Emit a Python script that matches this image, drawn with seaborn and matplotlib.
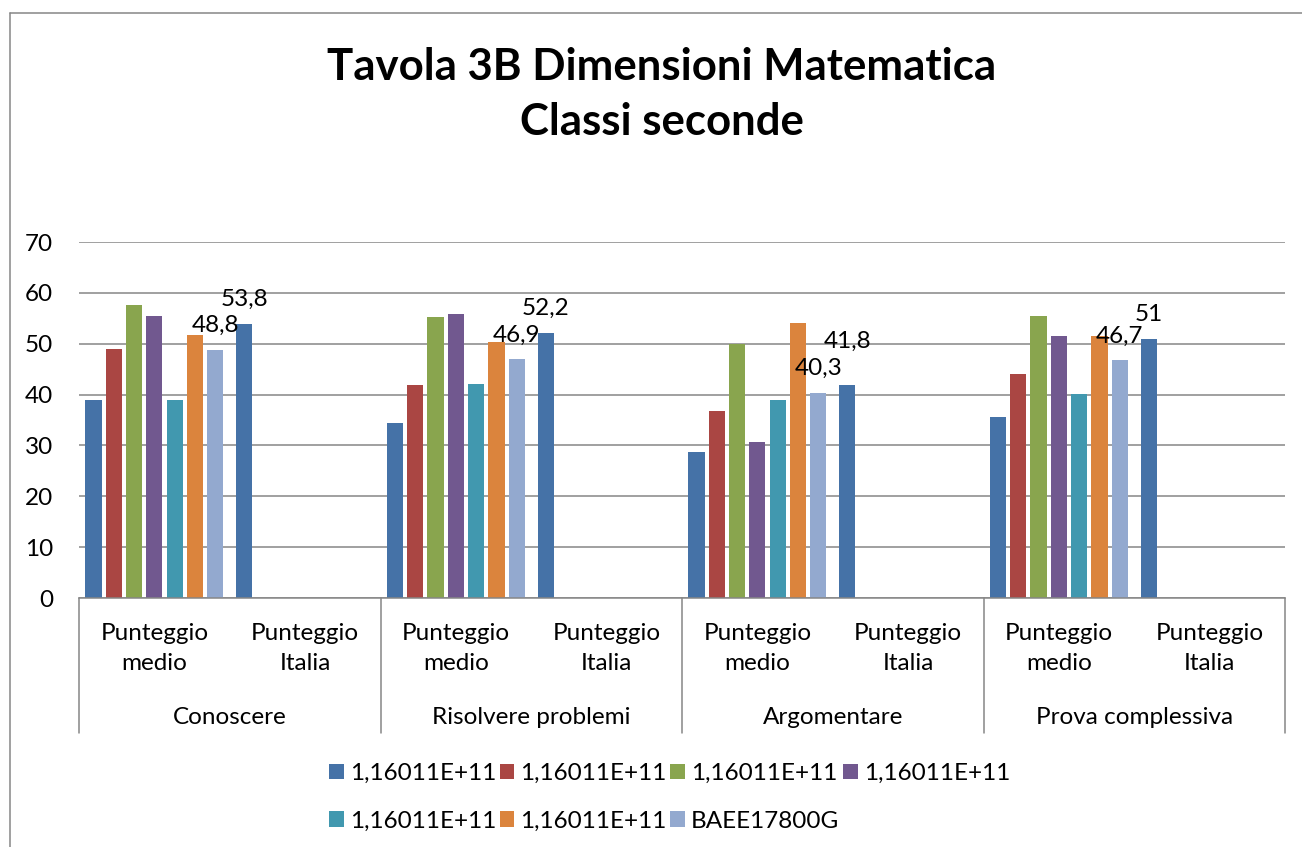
import numpy as np
import pandas as pd
import matplotlib.pyplot as plt
import seaborn as sns
from matplotlib.lines import Line2D
from matplotlib.patches import Patch
from matplotlib.colors import to_rgb

# Data
groups = ["Conoscere", "Risolvere problemi", "Argomentare", "Prova complessiva"]
sub_labels = ["Punteggio\nmedio", "Punteggio\nItalia"]
series_labels = ["1,16011E+11"] * 6 + ["BAEE17800G"]
s1 = [39.0, 34.5, 28.8, 35.5]
s2 = [48.9, 41.8, 36.8, 44.1]
s3 = [57.6, 55.3, 49.9, 55.5]
s4 = [55.4, 55.8, 30.7, 51.5]
s5 = [38.9, 42.0, 38.9, 40.1]
s6 = [51.8, 50.3, 54.0, 51.5]
s7 = [48.8, 46.9, 40.3, 46.7]
italia = [53.8, 52.2, 41.8, 51.0]

colors = ["#4572A7", "#AA4643", "#89A54E", "#71588F", "#4198AF", "#DB843D", "#93A9CF"]
grid_col = "#868686"

# long table: the Italia value sits on the first series in the "Italia" sub category
schools = [s1, s2, s3, s4, s5, s6, s7]
keys = [f"s{k}" for k in range(len(schools))]
rows = []
cat_order = []
for i, g in enumerate(groups):
    cat_order += [f"{g} medio", f"{g} Italia"]
    for k, vals in enumerate(schools):
        rows.append((f"{g} medio", keys[k], vals[i]))
    rows.append((f"{g} Italia", keys[0], italia[i]))
df = pd.DataFrame(rows, columns=["cat", "series", "value"])

sns.set_style("white")
plt.rcParams['font.family'] = ['Lato', 'DejaVu Sans']
plt.rcParams['text.color'] = 'black'
plt.rcParams['xtick.color'] = 'black'
plt.rcParams['ytick.color'] = 'black'
fs = 17.5

fig = plt.figure(figsize=(13.02, 8.47), dpi=100)
ax = fig.add_axes([79 / 1302, 1 - 598 / 847, 1206 / 1302, 356 / 847])

sns.barplot(data=df, x="cat", y="value", hue="series", order=cat_order,
            hue_order=keys, palette=colors, width=0.942, gap=0.2,
            saturation=1, errorbar=None, linewidth=0, legend=False, ax=ax)

ax.set_xlim(-0.5, len(cat_order) - 0.5)
ax.set_ylim(0, 70)
ax.set_yticks(range(0, 71, 10))
ax.yaxis.grid(True, color=grid_col, linewidth=1.1)
ax.set_axisbelow(True)
ax.set_xlabel("")
ax.set_ylabel("")
for side in ["left", "right", "top"]:
    ax.spines[side].set_visible(False)
ax.spines["bottom"].set_color(grid_col)
ax.spines["bottom"].set_linewidth(1.1)
ax.tick_params(axis="y", length=0, pad=18.5, labelsize=fs)
ax.set_xticks(range(len(cat_order)))
ax.set_xticklabels(sub_labels * len(groups), fontsize=fs, linespacing=1.55)
ax.tick_params(axis="x", length=0, pad=18)

# group labels and separators of the two level axis
tr = ax.get_xaxis_transform()
for i, g in enumerate(groups):
    ax.text(2 * i + 0.5, -0.336, g, transform=tr, ha="center", va="center", fontsize=fs)
for xb in np.arange(-0.5, len(cat_order), 2):
    ax.plot([xb, xb], [0, -0.379], transform=tr, color=grid_col, lw=1.1, clip_on=False)

# data labels: BAEE17800G bars and the Italia bars
light_labels, ital_labels = [], []
for p in ax.patches:
    h = p.get_height()
    if np.isnan(h) or h == 0:
        continue
    xc = p.get_x() + p.get_width() / 2
    fc = p.get_facecolor()[:3]
    is_light = np.allclose(fc, to_rgb(colors[6]), atol=0.01)
    is_ital = np.allclose(fc, to_rgb(colors[0]), atol=0.01) and round(xc) % 2 == 1
    if is_light or is_ital:
        t = ax.annotate(f"{h:g}".replace(".", ","), (xc, h), xytext=(0, 13),
                        textcoords="offset points", ha="center", va="baseline", fontsize=fs)
        (light_labels if is_light else ital_labels).append(t)

# lift an Italia label above its neighbour when the two would collide
renderer = fig.canvas.get_renderer()
for t in ital_labels:
    bt = t.get_window_extent(renderer)
    for o in light_labels:
        bo = o.get_window_extent(renderer)
        if bt.overlaps(bo):
            shift = bo.y1 - bt.y0 + 6
            t.xyann = (0, 13 + shift * 72 / fig.dpi)

# title
fig.text(662 / 1302, 1 - 80 / 847, "Tavola 3B Dimensioni Matematica", ha="center",
         va="baseline", fontsize=31.5, fontweight="bold")
fig.text(662 / 1302, 1 - 135 / 847, "Classi seconde", ha="center",
         va="baseline", fontsize=31.5, fontweight="bold")

# legend, filled row by row
handles = [Patch(facecolor=c, edgecolor="none") for c in colors]
order = [0, 4, 1, 5, 2, 6, 3]
fig.legend([handles[k] for k in order], [series_labels[k] for k in order],
           ncol=4, loc="upper left", bbox_to_anchor=(329 / 1302, 1 - 763 / 847),
           frameon=False, fontsize=fs, handlelength=0.6, handleheight=0.6,
           handletextpad=0.25, columnspacing=0.15, labelspacing=1.1,
           borderpad=0, borderaxespad=0)

# chart frame (only top and left edges are in view)
fig.add_artist(Line2D([10 / 1302, 10 / 1302], [0, 1 - 13 / 847], color=grid_col, lw=1.1))
fig.add_artist(Line2D([10 / 1302, 1], [1 - 13 / 847, 1 - 13 / 847], color=grid_col, lw=1.1))

fig.savefig("out.png", dpi=100)
